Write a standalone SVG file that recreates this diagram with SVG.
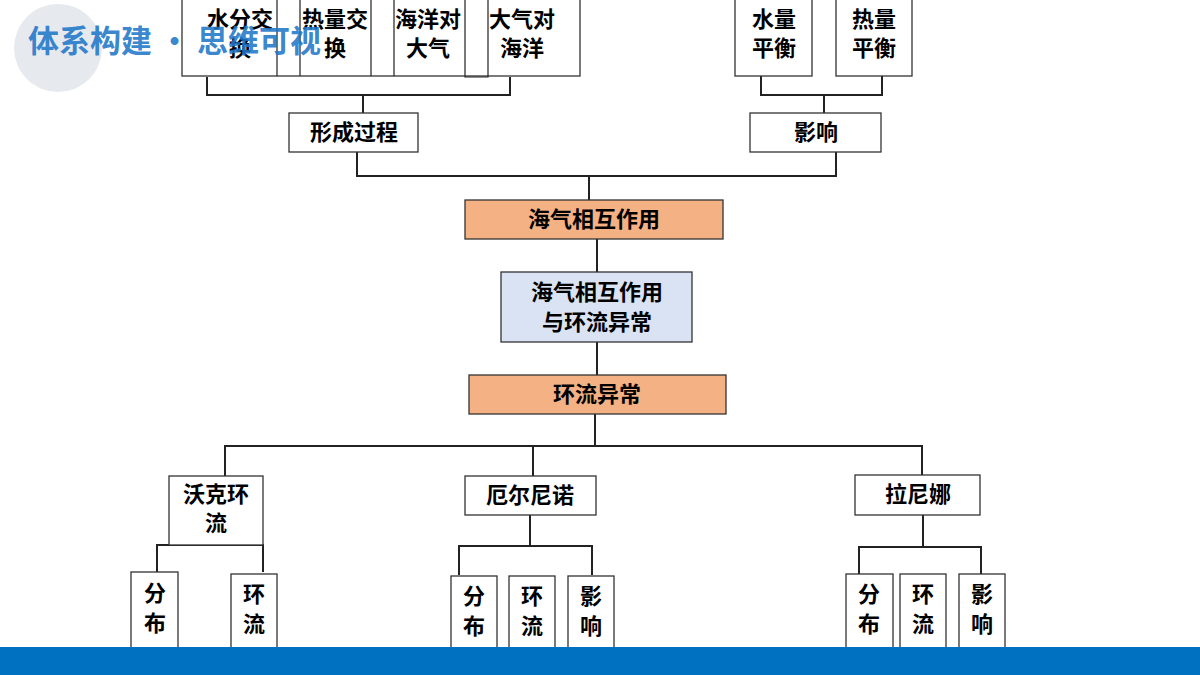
<svg xmlns="http://www.w3.org/2000/svg" width="1200" height="675" viewBox="0 0 1200 675">
<style>
.b{fill:#fff;stroke:#333;stroke-width:1.3}
.o{fill:#F4B183;stroke:#333;stroke-width:1.3}
.c{fill:#DAE3F3;stroke:#333;stroke-width:1.3}
.t{font-family:"Noto Sans CJK SC",sans-serif;font-weight:bold;font-size:22px;fill:#000;text-anchor:middle}
.l{fill:none;stroke:#222;stroke-width:2}
</style>
<rect width="1200" height="675" fill="#fff"/>
<circle cx="58" cy="48" r="44" fill="#E6E9EE"/>
<g id="connectors">
<path class="l" d="M207,77V95H510V77M363,95V113"/>
<path class="l" d="M761,76V95H882V76M824,95V113"/>
<path class="l" d="M357,152V176H836V152M589,176V200"/>
<path class="l" d="M597,239V272M597,342V375M595,414V446"/>
<path class="l" d="M225,476V446H922V476M533,446V476"/>
<path class="l" d="M217,530V545M157,572V545H263V572"/>
<path class="l" d="M530,515V546M459,575V546H592V575"/>
<path class="l" d="M923,515V547M859,574V547H981V574"/>
</g>
<g id="top">
<rect class="b" x="182" y="-2" width="398" height="78"/>
<path class="l" style="stroke-width:1.2" d="M277,0V76M300,0V76M371,0V76M394,0V76M465,0V77H488V0"/>
<text class="t" x="240" y="27">水分交</text><text class="t" x="240" y="56">换</text>
<text class="t" x="335" y="27">热量交</text><text class="t" x="335" y="56">换</text>
<text class="t" x="428" y="27">海洋对</text><text class="t" x="428" y="56">大气</text>
<text class="t" x="522" y="27">大气对</text><text class="t" x="522" y="56">海洋</text>
</g>
<g id="n-water"><rect class="b" x="735" y="-2" width="77" height="78"/><text class="t" x="774" y="27">水量</text><text class="t" x="774" y="56">平衡</text></g>
<g id="n-heat"><rect class="b" x="836" y="-2" width="76" height="78"/><text class="t" x="874" y="27">热量</text><text class="t" x="874" y="56">平衡</text></g>
<g id="n-form"><rect class="b" x="289" y="113" width="129" height="39"/><text class="t" x="354" y="140">形成过程</text></g>
<g id="n-eff"><rect class="b" x="750" y="113" width="131" height="39"/><text class="t" x="816" y="140">影响</text></g>
<g id="n-sea"><rect class="o" x="465" y="200" width="258" height="39"/><text class="t" x="594" y="227">海气相互作用</text></g>
<g id="n-center"><rect class="c" x="501" y="272" width="191" height="70"/><text class="t" x="597" y="300">海气相互作用</text><text class="t" x="597" y="330">与环流异常</text></g>
<g id="n-anom"><rect class="o" x="469" y="375" width="257" height="39"/><text class="t" x="597" y="402">环流异常</text></g>
<g id="n-walker"><rect class="b" x="169" y="476" width="94" height="69"/><text class="t" x="216" y="502">沃克环</text><text class="t" x="216" y="531">流</text></g>
<g id="n-elnino"><rect class="b" x="465" y="476" width="131" height="39"/><text class="t" x="530" y="503">厄尔尼诺</text></g>
<g id="n-lanina"><rect class="b" x="855" y="475" width="125" height="40"/><text class="t" x="918" y="502">拉尼娜</text></g>
<g id="leaves">
<rect class="b" x="131" y="572" width="47" height="78"/><text class="t" x="155" y="601">分</text><text class="t" x="155" y="631">布</text>
<rect class="b" x="231" y="574" width="46" height="77"/><text class="t" x="254" y="602">环</text><text class="t" x="254" y="632">流</text>
<rect class="b" x="451" y="576" width="46" height="76"/><text class="t" x="474" y="604">分</text><text class="t" x="474" y="634">布</text>
<rect class="b" x="509" y="576" width="46" height="76"/><text class="t" x="532" y="604">环</text><text class="t" x="532" y="634">流</text>
<rect class="b" x="568" y="576" width="46" height="76"/><text class="t" x="591" y="604">影</text><text class="t" x="591" y="634">响</text>
<rect class="b" x="846" y="574" width="47" height="77"/><text class="t" x="869" y="602">分</text><text class="t" x="869" y="632">布</text>
<rect class="b" x="900" y="574" width="46" height="77"/><text class="t" x="923" y="602">环</text><text class="t" x="923" y="632">流</text>
<rect class="b" x="959" y="574" width="46" height="77"/><text class="t" x="982" y="602">影</text><text class="t" x="982" y="632">响</text>
</g>
<rect x="0" y="647" width="1200" height="28" fill="#0070C0"/>
<text x="28" y="52" font-family="'Noto Sans CJK SC',sans-serif" font-weight="bold" font-size="31" fill="#1F77C9" fill-opacity="0.9">体系构建 · 思维可视</text>
</svg>
